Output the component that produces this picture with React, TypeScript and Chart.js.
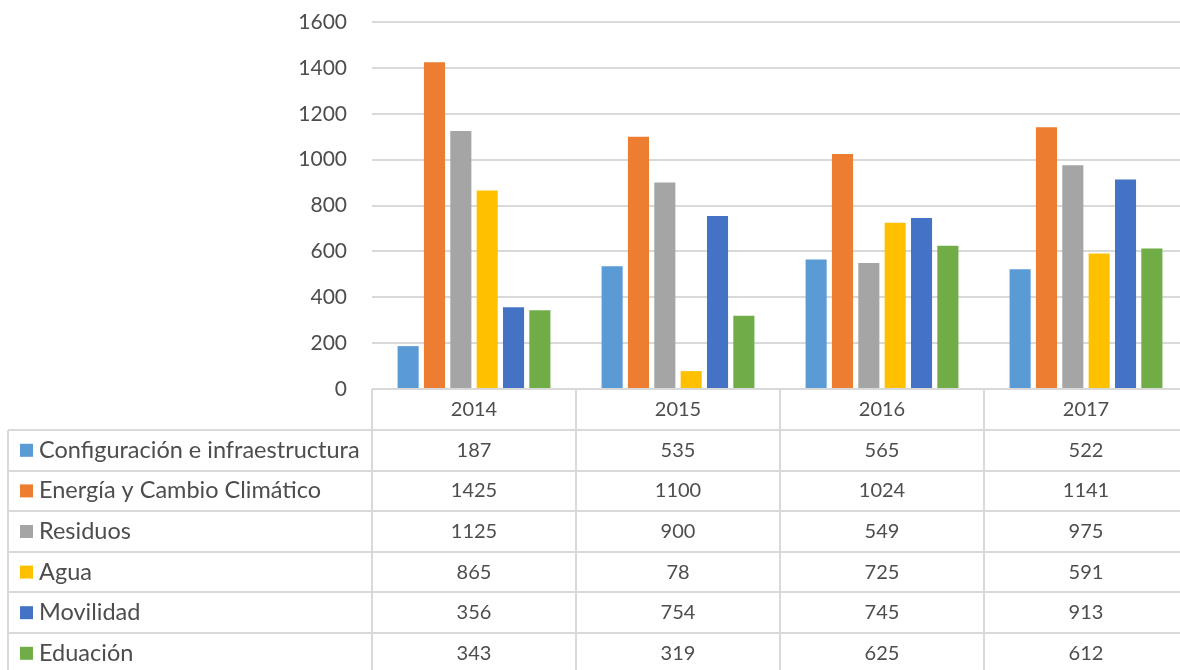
import React, { useEffect, useRef } from "react";
import { Chart, registerables } from "chart.js";

Chart.register(...registerables);

const categories = ["2014", "2015", "2016", "2017"];
const seriesNames = [
  "Configuración e infraestructura",
  "Energía y Cambio Climático",
  "Residuos",
  "Agua",
  "Movilidad",
  "Eduación",
];
const configuracion = [187, 535, 565, 522];
const energia = [1425, 1100, 1024, 1141];
const residuos = [1125, 900, 549, 975];
const agua = [865, 78, 725, 591];
const movilidad = [356, 754, 745, 913];
const educacion = [343, 319, 625, 612];
const seriesColors = ["#5B9BD5", "#ED7D31", "#A5A5A5", "#FFC000", "#4472C4", "#70AD47"];
const yTicks = [0, 200, 400, 600, 800, 1000, 1200, 1400, 1600];

const FONT = "Lato, 'Open Sans', sans-serif";
const TEXT = "#4d4d4d";
const LINE = "#D9D9D9";

const tablePlugin = {
  id: "dataTable",
  afterDraw(chart: any) {
    const ctx = chart.ctx;
    const area = chart.chartArea;
    const xs = chart.scales.x;
    const n = categories.length;
    const colW = (area.right - area.left) / n;
    const top = area.bottom;
    const headerH = 41;
    const rowH = 40.6;
    const tableLeft = 8;
    const rows = chart.data.datasets.length;
    const tableBottom = top + headerH + rows * rowH;
    ctx.save();
    ctx.strokeStyle = LINE;
    ctx.lineWidth = 2;
    for (let i = 0; i <= n; i++) {
      const x = Math.round(area.left + i * colW);
      ctx.beginPath();
      ctx.moveTo(x, top);
      ctx.lineTo(x, tableBottom);
      ctx.stroke();
    }
    ctx.beginPath();
    ctx.moveTo(tableLeft, top + headerH);
    ctx.lineTo(tableLeft, tableBottom);
    ctx.stroke();
    for (let r = 0; r <= rows; r++) {
      const y = Math.round(top + headerH + r * rowH);
      ctx.beginPath();
      ctx.moveTo(tableLeft, y);
      ctx.lineTo(area.right, y);
      ctx.stroke();
    }
    ctx.textBaseline = "middle";
    ctx.textAlign = "center";
    ctx.fillStyle = TEXT;
    ctx.font = `20px ${FONT}`;
    categories.forEach((c, i) => {
      ctx.fillText(c, xs.getPixelForValue(i), top + headerH / 2);
    });
    chart.data.datasets.forEach((ds: any, r: number) => {
      const cy = top + headerH + r * rowH + rowH / 2;
      ctx.fillStyle = ds.backgroundColor;
      ctx.fillRect(20, cy - 6.5, 13, 13);
      ctx.fillStyle = TEXT;
      ctx.textAlign = "left";
      ctx.font = `23.5px ${FONT}`;
      ctx.fillText(ds.label, 39, cy);
      ctx.textAlign = "center";
      ctx.font = `20px ${FONT}`;
      ds.data.forEach((v: number, i: number) => {
        ctx.fillText(String(v), xs.getPixelForValue(i), cy);
      });
    });
    ctx.restore();
  },
};

export default function App() {
  const ref = useRef<HTMLCanvasElement>(null);
  useEffect(() => {
    const values = [configuracion, energia, residuos, agua, movilidad, educacion];
    const chart = new Chart(ref.current!, {
      type: "bar",
      data: {
        labels: categories,
        datasets: seriesNames.map((name, i) => ({
          label: name,
          data: values[i],
          backgroundColor: seriesColors[i],
          categoryPercentage: 0.775,
          barPercentage: 0.8,
        })),
      },
      options: {
        responsive: false,
        animation: false,
        devicePixelRatio: 1,
        layout: { padding: { left: 0, top: 22, right: 12, bottom: 281 } },
        plugins: { legend: { display: false }, tooltip: { enabled: false } },
        scales: {
          x: { display: false },
          y: {
            min: 0,
            max: 1600,
            afterBuildTicks: (axis: any) => {
              axis.ticks = yTicks.map((v) => ({ value: v }));
            },
            afterFit: (axis: any) => {
              axis.width = 372;
            },
            border: { display: false },
            grid: {
              color: LINE,
              lineWidth: 2,
              drawTicks: true,
              tickLength: 25,
              tickColor: "rgba(0,0,0,0)",
            },
            ticks: {
              color: TEXT,
              padding: 0,
              font: { family: FONT, size: 21 },
              callback: (v: any) => String(v),
            },
          },
        },
      },
      plugins: [tablePlugin],
    });
    return () => chart.destroy();
  }, []);
  return (
    <div style={{ position: "absolute", left: 0, top: 0, width: 1180, height: 670, overflow: "hidden", background: "#fff" }}>
      <canvas ref={ref} width={1200} height={670} style={{ display: "block" }} />
    </div>
  );
}
